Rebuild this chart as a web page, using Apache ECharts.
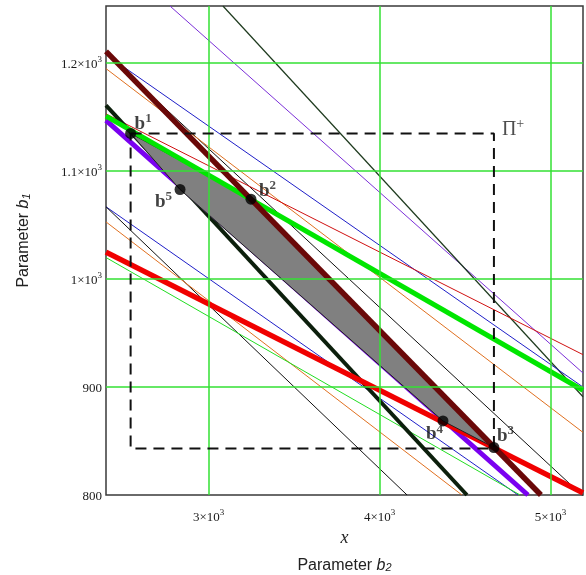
<!DOCTYPE html>
<html><head><meta charset="utf-8">
<script src="https://cdn.jsdelivr.net/npm/echarts@6/dist/echarts.min.js"></script>
<style>html,body{margin:0;padding:0;background:#fff}#c{width:586px;height:575px}</style>
</head><body><div id="c"></div>
<script>
// ---- axis ticks ----
const xTickValues = [3000, 4000, 5000];
const xTickMant = ['3×10', '4×10', '5×10'];
const xTickExp = ['3', '3', '3'];
const yTickValues = [800, 900, 1000, 1100, 1200];
const yTickMant = ['800', '900', '1×10', '1.1×10', '1.2×10'];
const yTickExp = ['', '', '3', '3', '3'];

// ---- constraint lines (b2, b1) endpoints ----
const purpleThin   = [[2774, 1253], [5190, 913]];
const darkGreenThin= [[3084, 1253], [5190, 891]];
const maroonThick  = [[2400, 1211], [4944, 800]];
const blueUpper    = [[2400, 1208], [5190, 900]];
const blackUpper   = [[2400, 1209], [5190, 799]];
const orangeUpper  = [[2400, 1195], [5190, 858]];
const blackThick   = [[2400, 1161], [4511, 800]];
const greenThick   = [[2400, 1151], [5190, 897]];
const redThin      = [[2400, 1153], [5190, 930]];
const purpleThick  = [[2400, 1147], [4868, 800]];
const blueLower    = [[2400, 1067], [4810, 800]];
const blackLower   = [[2400, 1067], [4161, 800]];
const orangeLower  = [[2400, 1053], [4482, 800]];
const redThick     = [[2400, 1025], [5190, 802]];
const greenLower   = [[2400, 1020], [4822, 800]];

// ---- feasible polygon vertices b1..b5 ----
const vertexNames = ['1', '2', '3', '4', '5'];
const vertexB2 = [2544, 3248, 4669, 4371, 2833];
const vertexB1 = [1135, 1074, 844, 868.6, 1083];

// ---- box Π+ ----
const boxB2 = [2544, 4669];
const boxB1 = [843, 1135];

const serif = 'Liberation Serif';
const sans = 'Liberation Sans';

function ln(data, color, width, z) {
  return { type: 'line', data: data, showSymbol: false, symbol: 'none', silent: true,
    lineStyle: { color: color, width: width }, z: z || 2, animation: false };
}

const labelPos = {
  '1': { align: 'left', verticalAlign: 'bottom', offset: [4, 0] },
  '2': { align: 'left', verticalAlign: 'bottom', offset: [8, 1] },
  '3': { align: 'left', verticalAlign: 'bottom', offset: [3, -2] },
  '4': { align: 'left', verticalAlign: 'top', offset: [-17, 2] },
  '5': { align: 'right', verticalAlign: 'top', offset: [-8, 1] }
};

const pointData = vertexNames.map((n, i) => ({
  value: [vertexB2[i], vertexB1[i]],
  label: Object.assign({ show: true, position: 'inside', formatter: '{b|b}{s|' + n + '}',
    rich: { b: { fontFamily: serif, fontWeight: 'bold', fontSize: 19, color: '#111', verticalAlign: 'bottom', lineHeight: 21 },
            s: { fontFamily: serif, fontWeight: 'bold', fontSize: 13, color: '#222', verticalAlign: 'top', lineHeight: 21 } } }, labelPos[n])
}));

const tickRich = {
  n: { fontFamily: serif, fontSize: 13, color: '#1a1a1a', lineHeight: 16, verticalAlign: 'bottom' },
  s: { fontFamily: serif, fontSize: 9, color: '#1a1a1a', lineHeight: 16, verticalAlign: 'top' }
};

const chart = echarts.init(document.getElementById('c'), null, { renderer: 'canvas' });
chart.setOption({
  animation: false,
  backgroundColor: '#fff',
  grid: { left: 106, top: 6, right: 3, bottom: 80, containLabel: false, outerBoundsMode: 'none',
    show: true, borderColor: '#3a3a3a', borderWidth: 1.5, backgroundColor: 'transparent' },
  xAxis: {
    type: 'value', min: 2400, max: 5190, interval: 100,
    axisLine: { show: false }, axisTick: { show: false }, splitLine: { show: false },
    axisLabel: { margin: 13, rich: tickRich,
      formatter: v => { const i = xTickValues.indexOf(Math.round(v)); return i >= 0 ? '{n|' + xTickMant[i] + '}{s|' + xTickExp[i] + '}' : ''; } },
    name: '{x|x}\n{p|Parameter }{b|b}{s|2}', nameLocation: 'middle', nameGap: 30,
    nameTextStyle: { rich: {
      x: { fontFamily: serif, fontStyle: 'italic', fontSize: 18, color: '#222', lineHeight: 24, align: 'center' },
      p: { fontFamily: sans, fontSize: 16, color: '#222', lineHeight: 24, verticalAlign: 'bottom' },
      b: { fontFamily: sans, fontStyle: 'italic', fontSize: 16, color: '#222', lineHeight: 24, verticalAlign: 'bottom' },
      s: { fontFamily: sans, fontStyle: 'italic', fontSize: 11, color: '#222', lineHeight: 20, verticalAlign: 'bottom' } } }
  },
  yAxis: {
    type: 'value', min: 800, max: 1253, interval: 100,
    axisLine: { show: false }, axisTick: { show: false }, splitLine: { show: false },
    axisLabel: { margin: 4, rich: tickRich,
      formatter: v => { const i = yTickValues.indexOf(Math.round(v)); return i >= 0 ? '{n|' + yTickMant[i] + '}' + (yTickExp[i] ? '{s|' + yTickExp[i] + '}' : '') : ''; } },
    name: '{p|Parameter }{b|b}{s|1}', nameLocation: 'middle', nameRotate: 90, nameGap: 74,
    nameTextStyle: { padding: [0, 0, 0, 20], rich: {
      p: { fontFamily: sans, fontSize: 16, color: '#222', lineHeight: 22, verticalAlign: 'bottom' },
      b: { fontFamily: sans, fontStyle: 'italic', fontSize: 16, color: '#222', lineHeight: 22, verticalAlign: 'bottom' },
      s: { fontFamily: sans, fontStyle: 'italic', fontSize: 11, color: '#222', lineHeight: 18, verticalAlign: 'bottom' } } }
  },
  series: [
    { type: 'line', data: [], silent: true, z: 1,
      markLine: { silent: true, symbol: ['none', 'none'], label: { show: false },
        lineStyle: { color: '#33e033', width: 1.5, type: 'solid' },
        data: xTickValues.map(v => ({ xAxis: v })).concat(yTickValues.filter(v => v > 800).map(v => ({ yAxis: v }))) } },
    ln(purpleThin, '#7b2fd8', 1),
    ln(darkGreenThin, '#1e3a1e', 1.2),
    ln(blueUpper, '#1f1fc8', 1),
    ln(blackUpper, '#111', 1),
    ln(orangeUpper, '#e07020', 1),
    ln(redThin, '#d01010', 1),
    ln(blueLower, '#1f1fc8', 1),
    ln(blackLower, '#111', 1),
    ln(orangeLower, '#e07020', 1),
    ln(greenLower, '#22dd22', 1),
    ln(blackThick, '#0c1f0c', 4),
    ln(purpleThick, '#7a00f0', 5),
    ln(redThick, '#f00000', 5.5),
    {
      type: 'custom', silent: true, z: 3,
      data: [[vertexB2[0], vertexB1[0]]],
      renderItem: (params, api) => {
        const pts = vertexB2.map((x, i) => api.coord([x, vertexB1[i]]));
        return { type: 'polygon', shape: { points: pts }, style: { fill: '#808080', stroke: '#222', lineWidth: 1 } };
      }
    },
    ln(greenThick, '#00e600', 5, 4),
    ln(maroonThick, '#6a0808', 5.5, 4),
    { type: 'line', silent: true, z: 5, showSymbol: false, symbol: 'none',
      data: [[boxB2[0], boxB1[1]], [boxB2[1], boxB1[1]], [boxB2[1], boxB1[0]], [boxB2[0], boxB1[0]], [boxB2[0], boxB1[1]]],
      lineStyle: { color: '#111', width: 2, type: [11, 7] } },
    { type: 'scatter', silent: true, z: 6, symbolSize: 11, itemStyle: { color: '#000' }, data: pointData },
    { type: 'scatter', silent: true, z: 6, symbolSize: 0,
      data: [{ value: [boxB2[1], boxB1[1]],
        label: { show: true, position: 'inside', align: 'left', verticalAlign: 'bottom', offset: [8, 6],
          formatter: '{p|Π}{s|+}',
          rich: { p: { fontFamily: serif, fontSize: 20, color: '#222', verticalAlign: 'bottom', lineHeight: 22 },
                  s: { fontFamily: serif, fontSize: 14, color: '#222', verticalAlign: 'top', lineHeight: 22 } } } }] }
  ]
});
</script></body></html>
